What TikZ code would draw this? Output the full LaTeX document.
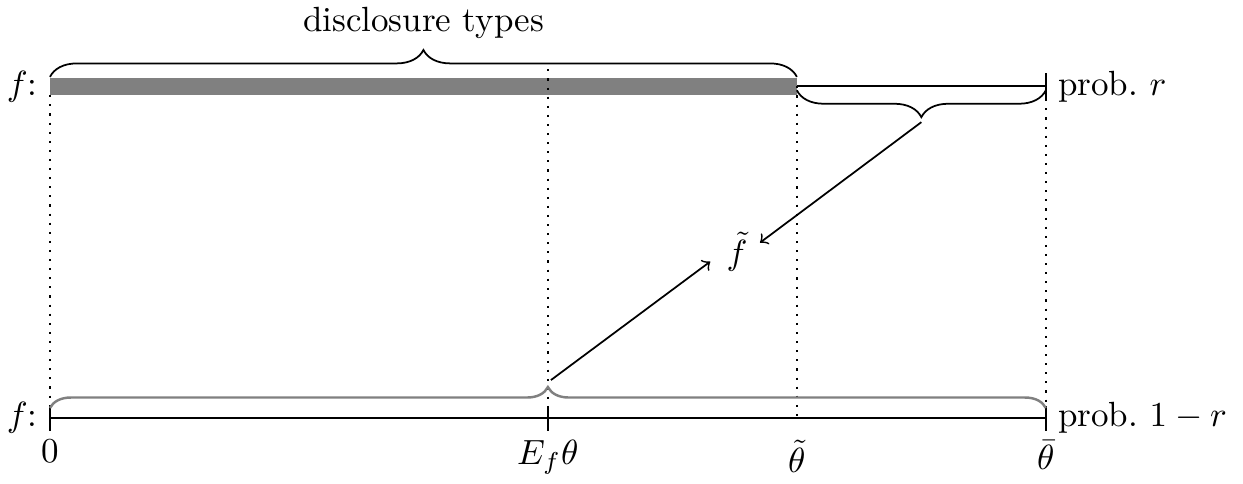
\documentclass[tikz,border=0pt]{standalone}
\usepackage{amssymb,amsmath}
\usetikzlibrary{positioning,decorations.pathreplacing,calc}
\begin{document}
\begin{tikzpicture}[
  >=to,
  axisln/.style={line width=0.6pt},
  guide/.style={dotted,line width=0.6pt},
  brc/.style={decorate,decoration={brace,amplitude=2.7mm},line width=0.5pt},
  grbrc/.style={decorate,decoration={brace,amplitude=2.1mm},draw=gray,line width=0.7pt},
  flow/.style={->,line width=0.5pt},
]
\useasboundingbox (-0.502,-0.663) rectangle (11.98,4.197);
% top line (prob. r)
\fill[gray] (0,3.245) rectangle (7.5,3.415);
\draw[axisln] (7.5,3.33) -- (10,3.33);
\draw[axisln] (10,3.2) -- (10,3.46);
\node[anchor=east] (ftop) at (0,3.33) {$f$:};
\node[anchor=west] (pr) at (10,3.33) {prob.\ $r$};
% bottom line (prob. 1-r)
\draw[axisln] (0,0) -- (10,0);
\foreach \x in {0,5,10} \draw[axisln] (\x,0.12) -- (\x,-0.13);
\node[anchor=east] (fbot) at (0,0) {$f$:};
\node[anchor=west] (pq) at (10,0) {prob.\ $1-r$};
% tick labels
\node[below] (l0) at (0,-0.1) {$0$};
\node[below] (l1) at (5,-0.1) {$E_f\theta$};
\node[below] (l2) at (7.5,-0.1) {$\tilde\theta$};
\node[below] (l3) at (10,-0.1) {$\bar\theta$};
% guides
\draw[guide] (0,3.24) -- (0,0.12);
\draw[guide] (5,3.5) -- (5,0.12);
\draw[guide] (7.5,3.33) -- (7.5,-0.05);
\draw[guide] (10,3.2) -- (10,0.12);
% braces
\draw[brc] (0,3.425) -- (7.5,3.425);
\node (dt) at (3.75,3.97) {disclosure types};
\draw[brc,decoration={mirror}] (7.5,3.29) -- (10,3.29);
\coordinate (toptip) at (8.75,2.97);
\draw[grbrc] (0,0.1) -- (10,0.1);
\coordinate (bottip) at (5.03,0.38);
% pooled type
\node (ft) at (6.9,1.67) {$\tilde f$};
\draw[flow] (toptip) -- ($(ft)+(0.23,0.09)$);
\draw[flow] (bottip) -- ($(ft)+(-0.27,-0.1)$);
\end{tikzpicture}
\end{document}
